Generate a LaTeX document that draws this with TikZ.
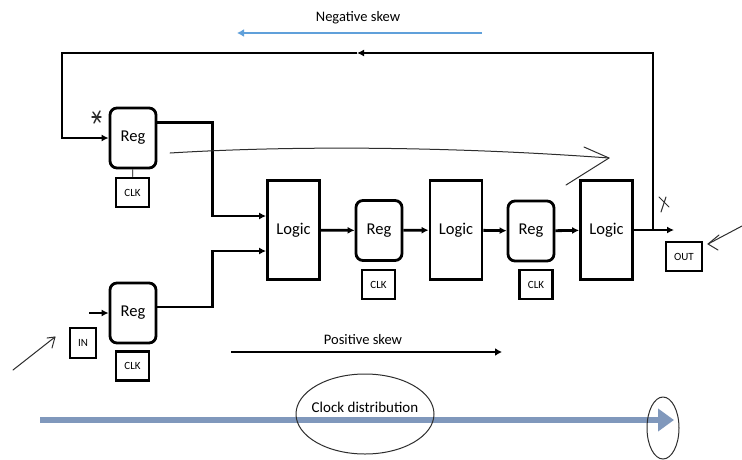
\documentclass[tikz,border=0pt]{standalone}
\usepackage{fontspec}
\setmainfont{Carlito}
\usetikzlibrary{arrows.meta}
\definecolor{negblue}{RGB}{96,160,218}
\definecolor{clkbar}{RGB}{128,152,188}
\definecolor{pen}{RGB}{45,45,45}

\begin{document}
\begin{tikzpicture}[x=1pt, y=-1pt,
	wire/.style={line width=2.8pt, -{Latex[length=7pt,width=7pt]}},
	reg/.style={draw, line width=2.8pt, rounded corners=7pt, minimum width=46pt, minimum height=60pt, inner sep=0pt, font=\fontsize{16.5}{18}\selectfont},
	logic/.style={draw, line width=2.8pt, minimum width=52pt, minimum height=99pt, inner sep=0pt, font=\fontsize{16.5}{18}\selectfont},
	clk/.style={draw, line width=2.6pt, minimum width=33pt, minimum height=29pt, inner sep=0pt, font=\fontsize{11}{12}\selectfont},
	hand/.style={draw=pen, line width=1pt, line cap=round, line join=round}]
	\useasboundingbox (0,0) rectangle (742,459);

	% registers and logic
	\node[reg] (rega) at (133,138) {Reg};
	\node[clk] (clka) at (132.5,192.5) {CLK};
	\node[reg] (regb) at (133,313) {Reg};
	\node[clk] (clkb) at (132.5,366) {CLK};
	\node[clk, minimum width=26pt, minimum height=30pt] (in) at (83,343) {IN};

	\node[logic] (logica) at (293.5,230) {Logic};
	\node[reg] (regc) at (379,230.5) {Reg};
	\node[clk] (clkc) at (378.5,284.5) {CLK};
	\node[logic] (logicb) at (456,230) {Logic};
	\node[reg] (regd) at (531,231) {Reg};
	\node[clk] (clkd) at (536,284.5) {CLK};
	\node[logic] (logicc) at (606.5,230) {Logic};
	\node[clk, minimum width=36pt] (out) at (684,256.5) {OUT};

	\draw[line width=0.8pt] (rega) -- (clka);

	% wiring
	\coordinate (inl) at (89,313);
	\coordinate (jout) at (653,230);
	\coordinate (outend) at (674,230);
	\coordinate (loopr) at (653,53);
	\coordinate (loopmid) at (357,53);
	\coordinate (loopl) at (62,53);

	\draw[wire] (inl) -- (regb.west);
	\draw[wire] ([yshift=-16pt]rega.north east) -- ++(55,0) |- ([yshift=14pt]logica.west);
	\draw[wire] ([yshift=6pt]regb.east) -- ++(55,0) |- ([yshift=-21pt]logica.west);
	\draw[wire] (logica) -- (regc);
	\draw[wire] (regc) -- (logicb);
	\draw[wire] (logicb) -- (regd);
	\draw[wire] (regd) -- (logicc);
	\draw[wire] (logicc) -- (outend);
	\draw[wire] (jout) -- (loopr) -- (loopmid);
	\draw[wire] (loopmid) -- (loopl) |- (rega.west);

	% skew arrows
	\node[font=\fontsize{14.5}{16}\selectfont] (neg) at (358,18) {Negative skew};
	\draw[negblue, line width=2.8pt, -{Latex[length=7pt,width=8pt]}] (482,33) -- (237,33);
	\node[font=\fontsize{14.5}{16}\selectfont] (pos) at (363,340) {Positive skew};
	\draw[line width=2.6pt, -{Latex[length=7pt,width=8pt]}] (231,352) -- (502,352);

	% clock distribution
	\draw[clkbar, line width=6pt, -{Triangle[length=16pt,width=22pt]}] (40,420) -- (674,420);
	\node[font=\fontsize{15}{17}\selectfont] (cd) at (365,407) {Clock distribution};
	\draw[hand] (365,414) ellipse [x radius=69, y radius=40];
	\draw[hand] (663,428) ellipse [x radius=16, y radius=31];

	% hand annotations
	\draw[hand] (170,153) .. controls (300,145) and (460,147) .. (609,158);
	\draw[hand] (584,147) -- (609,158) -- (566,185);
	\draw[hand] (13,370) -- (55,337);
	\draw[hand] (47,338) -- (55,337) -- (52,348);
	\draw[hand] (742,226) -- (708,244);
	\draw[hand] (719,235) -- (708,244) -- (718,250);
	\draw[hand] (659,197) -- (669,207);
	\draw[hand] (666,197) -- (661,212);
	\draw[hand, line width=1.4pt] (93,112) -- (100,122);
	\draw[hand, line width=1.4pt] (100,111) -- (94,123);
	\draw[hand, line width=1.4pt] (92,117) -- (101,117);
\end{tikzpicture}
\end{document}
